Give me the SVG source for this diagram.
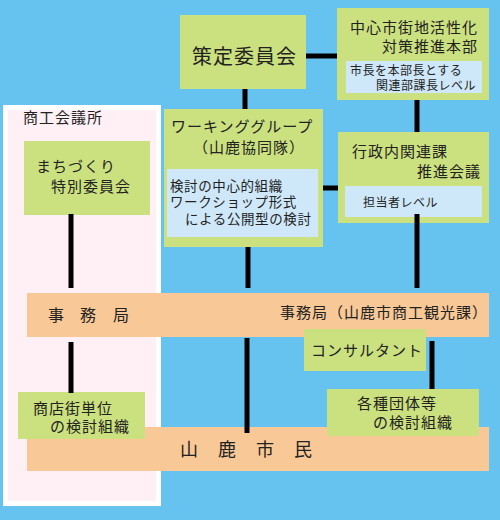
<svg xmlns="http://www.w3.org/2000/svg" width="500" height="520" viewBox="0 0 500 520">
<style>
text{font-family:"Noto Sans CJK JP","Noto Sans",sans-serif;fill:#222;}
.t15{font-size:15px;letter-spacing:1px;}
.t14{font-size:13.5px;letter-spacing:0.6px;}
.t12{font-size:12px;letter-spacing:0.5px;}
.g{fill:#CBE07F;}
.b{fill:#CFE8F9;}
.o{fill:#F8C896;}
.c line{stroke:#000;stroke-width:5;}
</style>
<rect x="0" y="0" width="500" height="520" fill="#66C3F0"/>
<g id="shokokaigisho">
<rect x="5.5" y="107.5" width="153" height="396" fill="#FFF0F5" stroke="#FFFFFF" stroke-width="5"/>
<text class="t15" x="23" y="123">商工会議所</text>
</g>
<g id="jimukyoku">
<rect class="o" x="27" y="293" width="462" height="44"/>
<text x="48" y="321" font-size="16"><tspan x="48">事</tspan><tspan x="80">務</tspan><tspan x="113">局</tspan></text>
<text class="t15" x="280" y="318" letter-spacing="0.4">事務局（山鹿市商工観光課）</text>
</g>
<g id="shimin">
<rect class="o" x="27" y="427" width="462" height="44"/>
<text y="456" font-size="18"><tspan x="180">山</tspan><tspan x="218">鹿</tspan><tspan x="256">市</tspan><tspan x="294">民</tspan></text>
</g>
<g id="machizukuri">
<rect class="g" x="24" y="141" width="126" height="74"/>
<text class="t15" x="36" y="172">まちづくり</text>
<text class="t15" x="51" y="192">特別委員会</text>
</g>
<g id="sakutei">
<rect class="g" x="180" y="15" width="126" height="74"/>
<text x="192" y="64" font-size="20" letter-spacing="1">策定委員会</text>
</g>
<g id="honbu">
<rect class="g" x="337" y="8" width="152" height="92"/>
<text class="t15" x="350" y="33">中心市街地活性化</text>
<text class="t15" x="382" y="52">対策推進本部</text>
<rect class="b" x="346" y="61" width="136" height="32"/>
<text class="t12" x="350" y="75">市長を本部長とする</text>
<text class="t12" x="376" y="90">関連部課長レベル</text>
</g>
<g id="working">
<rect class="g" x="164" y="109" width="159" height="138"/>
<text class="t15" x="171" y="132" letter-spacing="0.6">ワーキンググループ</text>
<text class="t15" x="193" y="153" letter-spacing="0">（山鹿協同隊）</text>
<rect class="b" x="167" y="169" width="151" height="68"/>
<text class="t14" x="170" y="191">検討の中心的組織</text>
<text class="t14" x="170" y="207">ワークショップ形式</text>
<text class="t14" x="185" y="224">による公開型の検討</text>
</g>
<g id="gyosei">
<rect class="g" x="338" y="132" width="151" height="91"/>
<text class="t15" x="352" y="157">行政内関連課</text>
<text class="t15" x="417" y="177">推進会議</text>
<rect class="b" x="345" y="186" width="137" height="31"/>
<text class="t12" x="363" y="207">担当者レベル</text>
</g>
<g id="consultant">
<rect class="g" x="304" y="329" width="122" height="42"/>
<text class="t15" x="311" y="356">コンサルタント</text>
</g>
<g id="kakushu">
<rect class="g" x="327" y="389" width="152" height="47"/>
<text class="t15" x="357" y="409" letter-spacing="0.6">各種団体等</text>
<text class="t15" x="373" y="428">の検討組織</text>
</g>
<g id="shotengai">
<rect class="g" x="18" y="392" width="127" height="47"/>
<text class="t15" x="33" y="414">商店街単位</text>
<text class="t15" x="50" y="432">の検討組織</text>
</g>
<g class="c" id="connectors">
<line x1="306" y1="56" x2="337" y2="56"/>
<line x1="245" y1="89" x2="245" y2="109"/>
<line x1="417" y1="100" x2="417" y2="132"/>
<line x1="323" y1="188" x2="338" y2="188"/>
<line x1="417" y1="214" x2="417" y2="288"/>
<line x1="248" y1="247" x2="248" y2="288"/>
<line x1="71" y1="214" x2="71" y2="288"/>
<line x1="71" y1="342" x2="71" y2="393"/>
<line x1="247" y1="338" x2="247" y2="433"/>
<line x1="432" y1="341" x2="432" y2="389"/>
</g>
</svg>
